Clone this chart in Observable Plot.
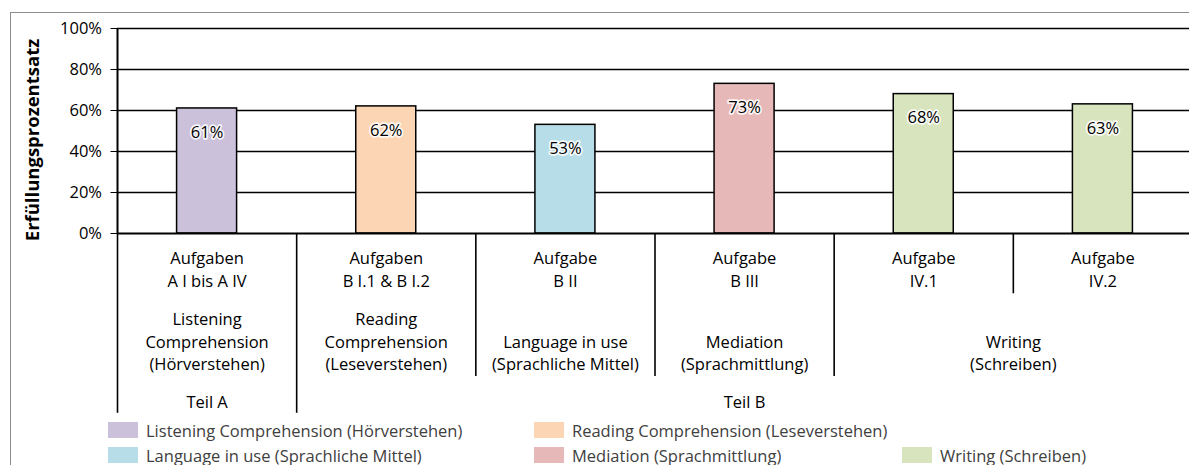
<!DOCTYPE html>
<html><head><meta charset="utf-8">
<script src="https://cdn.jsdelivr.net/npm/d3@7"></script>
<script src="https://cdn.jsdelivr.net/npm/@observablehq/plot@0.6"></script>
<style>
html,body{margin:0;padding:0;background:#fff;overflow:hidden;width:1189px;height:465px;}
#frame{position:absolute;left:10px;top:12px;width:1300px;height:600px;border-top:1.5px solid #8c8c8c;border-left:1.5px solid #8c8c8c;box-sizing:border-box;}
#chart{position:absolute;left:0;top:0;width:1200px;height:420px;}
#chart svg{max-width:none !important;}
#legend{position:absolute;left:0;top:417.5px;width:1189px;font:16.5px "Open Sans",sans-serif;color:#404040;}
.item{position:absolute;height:25px;display:flex;align-items:center;white-space:nowrap;}
.sw{width:30px;height:16px;margin-right:8px;flex:none;}
</style></head><body>
<div id="frame"></div>
<div id="chart"></div>
<div id="legend"></div>
<script>
// ---- data ----
const taskLabels = ["Aufgaben\nA I bis A IV", "Aufgaben\nB I.1 & B I.2", "Aufgabe\nB II", "Aufgabe\nB III", "Aufgabe\nIV.1", "Aufgabe\nIV.2"];
const values = [61, 62, 53, 73, 68, 63];
const taskSkill = ["listening", "reading", "language", "mediation", "writing", "writing"];
const taskPart = ["Teil A", "Teil B", "Teil B", "Teil B", "Teil B", "Teil B"];
const skillKeys = ["listening", "reading", "language", "mediation", "writing"];
const skillAxisLabels = ["Listening\nComprehension\n(Hörverstehen)", "Reading\nComprehension\n(Leseverstehen)", "Language in use\n(Sprachliche Mittel)", "Mediation\n(Sprachmittlung)", "Writing\n(Schreiben)"];
const skillLegendLabels = ["Listening Comprehension (Hörverstehen)", "Reading Comprehension (Leseverstehen)", "Language in use (Sprachliche Mittel)", "Mediation (Sprachmittlung)", "Writing (Schreiben)"];
const skillColors = ["#CCC1DA", "#FCD5B5", "#B7DEE8", "#E6B9B8", "#D7E4BD"];
const yTicks = [0, 20, 40, 60, 80, 100];
const yTitle = "Erfüllungsprozentsatz";

// ---- derived tables ----
const bars = values.map((v, i) => ({i, value: v, task: taskLabels[i], skill: taskSkill[i], part: taskPart[i]}));
function spans(keyOf) {
  const out = [];
  bars.forEach((b, i) => {
    const k = keyOf(b);
    if (out.length && out[out.length - 1].key === k) out[out.length - 1].end = i + 1;
    else out.push({key: k, start: i, end: i + 1});
  });
  return out;
}
const skillSpans = spans(b => b.skill).map(s => ({...s, label: skillAxisLabels[skillKeys.indexOf(s.key)]}));
const partSpans = spans(b => b.part).map(s => ({...s, label: s.key}));
// divider lines between categories; level: 1 task, 2 skill, 3 part / outer
const dividers = d3.range(bars.length + 1).map(p => {
  let level;
  if (p === 0 || p === bars.length || taskPart[p] !== taskPart[p - 1]) level = 3;
  else if (taskSkill[p] !== taskSkill[p - 1]) level = 2;
  else level = 1;
  return {pos: p, level};
});

// ---- layout constants ----
const depth = {1: 29.4, 2: 69.8, 3: 87.7}; // in y-units below 0%
const barFrac = 0.335;
const fs = 16.5;

const chart = Plot.plot({
  width: 1200, height: 420,
  marginLeft: 117, marginRight: 8, marginTop: 28, marginBottom: 187,
  style: {fontFamily: "'Open Sans', sans-serif", fontSize: fs + "px", color: "#000", background: "transparent", overflow: "visible", maxWidth: "none"},
  x: {domain: [0, bars.length], axis: null},
  y: {domain: [0, 100], ticks: yTicks, tickFormat: d => d + "%", tickSize: 6.5, tickPadding: 9, label: null},
  color: {domain: skillKeys, range: skillColors},
  marks: [
    Plot.ruleY(yTicks.filter(t => t > 0), {stroke: "#000", strokeWidth: 1.3}),
    Plot.rectY(bars, {x1: d => d.i + 0.5 - barFrac / 2, x2: d => d.i + 0.5 + barFrac / 2, y1: 0, y2: "value", fill: "skill", stroke: "#000", strokeWidth: 1.5}),
    Plot.text(bars, {x: d => d.i + 0.5, y: "value", text: d => d.value + "%", dy: 24, fill: "#000", stroke: "white", strokeWidth: 3.5, strokeOpacity: 0.85, fontSize: fs}),
    Plot.ruleX([0], {y1: 0, y2: 100, stroke: "#000", strokeWidth: 2}),
    Plot.ruleY([0], {x1: 0, x2: bars.length, stroke: "#000", strokeWidth: 2}),
    Plot.ruleX(dividers, {x: "pos", y1: 0, y2: d => -depth[d.level], stroke: "#000", strokeWidth: 1.6}),
    Plot.text(bars, {x: d => d.i + 0.5, y: 0, text: "task", lineAnchor: "bottom", lineHeight: 1.37, dy: 53.5, fill: "#000", fontSize: fs}),
    Plot.text(skillSpans, {x: d => (d.start + d.end) / 2, y: 0, text: "label", lineAnchor: "bottom", lineHeight: 1.37, dy: 136.8, fill: "#000", fontSize: fs}),
    Plot.text(partSpans, {x: d => (d.start + d.end) / 2, y: 0, text: "label", lineAnchor: "bottom", dy: 174.2, fill: "#000", fontSize: fs}),
    Plot.text([yTitle], {frameAnchor: "left", textAnchor: "middle", rotate: -90, dx: -84, dy: 9, fontWeight: "bold", fontSize: 18.5, fill: "#000"})
  ]
});
chart.style.maxWidth = "none";
document.getElementById("chart").appendChild(chart);

// ---- legend (Excel-style layout) ----
const legendCols = [108, 534, 902];
const legendSlots = [[0, 0], [0, 1], [1, 0], [1, 1], [1, 2]];
const legend = document.getElementById("legend");
skillKeys.forEach((k, i) => {
  const [r, c] = legendSlots[i];
  const it = document.createElement("div");
  it.className = "item";
  it.style.left = legendCols[c] + "px";
  it.style.top = (r * 25) + "px";
  it.innerHTML = `<div class="sw" style="background:${skillColors[i]}"></div><span>${skillLegendLabels[i]}</span>`;
  legend.appendChild(it);
});
</script>
</body></html>
